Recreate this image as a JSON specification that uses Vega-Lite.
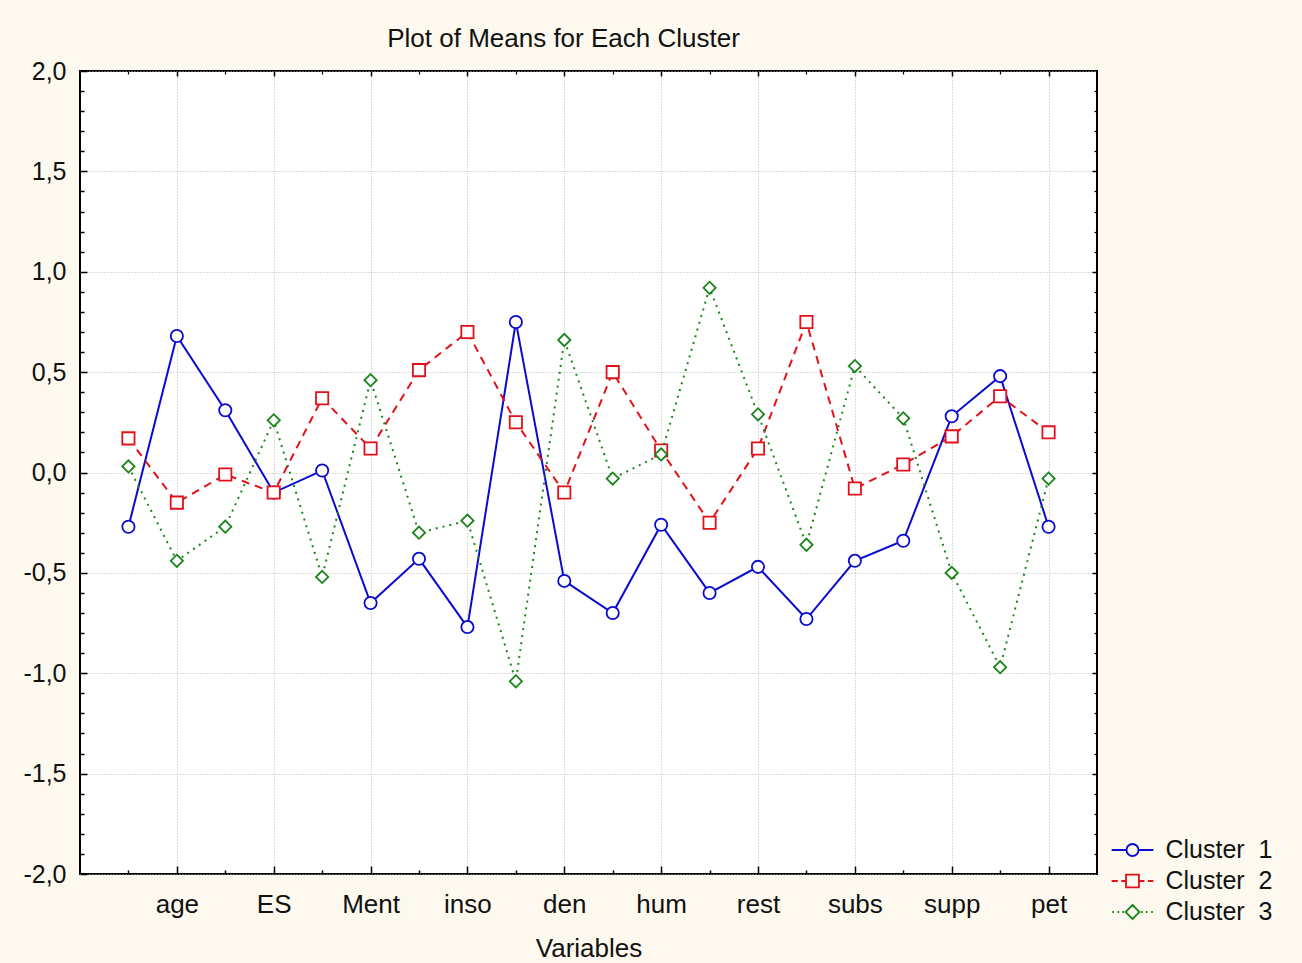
{
  "$schema": "https://vega.github.io/schema/vega-lite/v6.json",
  "width": 1017,
  "height": 803,
  "autosize": {"type": "none"},
  "padding": {"left": 80, "top": 71, "right": 205, "bottom": 89},
  "background": "#FDF9EE",
  "title": {"text": "Plot of Means for Each Cluster", "fontSize": 26, "font": "Liberation Sans", "fontWeight": "normal", "color": "#111111", "anchor": "middle", "dx": -25, "dy": 38, "offset": 24, "baseline": "alphabetic"},
  "config": {
    "view": {"fill": "white", "stroke": "black", "strokeWidth": 2},
    "font": "Liberation Sans",
    "axis": {"domain": false, "labelFont": "Liberation Sans", "titleFont": "Liberation Sans", "tickColor": "black"}
  },
  "data": {"values": [
    {"i": 1, "variable": "", "cluster": "Cluster 1", "mean": -0.27},
    {"i": 2, "variable": "age", "cluster": "Cluster 1", "mean": 0.68},
    {"i": 3, "variable": "", "cluster": "Cluster 1", "mean": 0.31},
    {"i": 4, "variable": "ES", "cluster": "Cluster 1", "mean": -0.10},
    {"i": 5, "variable": "", "cluster": "Cluster 1", "mean": 0.01},
    {"i": 6, "variable": "Ment", "cluster": "Cluster 1", "mean": -0.65},
    {"i": 7, "variable": "", "cluster": "Cluster 1", "mean": -0.43},
    {"i": 8, "variable": "inso", "cluster": "Cluster 1", "mean": -0.77},
    {"i": 9, "variable": "", "cluster": "Cluster 1", "mean": 0.75},
    {"i": 10, "variable": "den", "cluster": "Cluster 1", "mean": -0.54},
    {"i": 11, "variable": "", "cluster": "Cluster 1", "mean": -0.70},
    {"i": 12, "variable": "hum", "cluster": "Cluster 1", "mean": -0.26},
    {"i": 13, "variable": "", "cluster": "Cluster 1", "mean": -0.60},
    {"i": 14, "variable": "rest", "cluster": "Cluster 1", "mean": -0.47},
    {"i": 15, "variable": "", "cluster": "Cluster 1", "mean": -0.73},
    {"i": 16, "variable": "subs", "cluster": "Cluster 1", "mean": -0.44},
    {"i": 17, "variable": "", "cluster": "Cluster 1", "mean": -0.34},
    {"i": 18, "variable": "supp", "cluster": "Cluster 1", "mean": 0.28},
    {"i": 19, "variable": "", "cluster": "Cluster 1", "mean": 0.48},
    {"i": 20, "variable": "pet", "cluster": "Cluster 1", "mean": -0.27},
    {"i": 1, "variable": "", "cluster": "Cluster 2", "mean": 0.17},
    {"i": 2, "variable": "age", "cluster": "Cluster 2", "mean": -0.15},
    {"i": 3, "variable": "", "cluster": "Cluster 2", "mean": -0.01},
    {"i": 4, "variable": "ES", "cluster": "Cluster 2", "mean": -0.10},
    {"i": 5, "variable": "", "cluster": "Cluster 2", "mean": 0.37},
    {"i": 6, "variable": "Ment", "cluster": "Cluster 2", "mean": 0.12},
    {"i": 7, "variable": "", "cluster": "Cluster 2", "mean": 0.51},
    {"i": 8, "variable": "inso", "cluster": "Cluster 2", "mean": 0.70},
    {"i": 9, "variable": "", "cluster": "Cluster 2", "mean": 0.25},
    {"i": 10, "variable": "den", "cluster": "Cluster 2", "mean": -0.10},
    {"i": 11, "variable": "", "cluster": "Cluster 2", "mean": 0.50},
    {"i": 12, "variable": "hum", "cluster": "Cluster 2", "mean": 0.11},
    {"i": 13, "variable": "", "cluster": "Cluster 2", "mean": -0.25},
    {"i": 14, "variable": "rest", "cluster": "Cluster 2", "mean": 0.12},
    {"i": 15, "variable": "", "cluster": "Cluster 2", "mean": 0.75},
    {"i": 16, "variable": "subs", "cluster": "Cluster 2", "mean": -0.08},
    {"i": 17, "variable": "", "cluster": "Cluster 2", "mean": 0.04},
    {"i": 18, "variable": "supp", "cluster": "Cluster 2", "mean": 0.18},
    {"i": 19, "variable": "", "cluster": "Cluster 2", "mean": 0.38},
    {"i": 20, "variable": "pet", "cluster": "Cluster 2", "mean": 0.20},
    {"i": 1, "variable": "", "cluster": "Cluster 3", "mean": 0.03},
    {"i": 2, "variable": "age", "cluster": "Cluster 3", "mean": -0.44},
    {"i": 3, "variable": "", "cluster": "Cluster 3", "mean": -0.27},
    {"i": 4, "variable": "ES", "cluster": "Cluster 3", "mean": 0.26},
    {"i": 5, "variable": "", "cluster": "Cluster 3", "mean": -0.52},
    {"i": 6, "variable": "Ment", "cluster": "Cluster 3", "mean": 0.46},
    {"i": 7, "variable": "", "cluster": "Cluster 3", "mean": -0.30},
    {"i": 8, "variable": "inso", "cluster": "Cluster 3", "mean": -0.24},
    {"i": 9, "variable": "", "cluster": "Cluster 3", "mean": -1.04},
    {"i": 10, "variable": "den", "cluster": "Cluster 3", "mean": 0.66},
    {"i": 11, "variable": "", "cluster": "Cluster 3", "mean": -0.03},
    {"i": 12, "variable": "hum", "cluster": "Cluster 3", "mean": 0.09},
    {"i": 13, "variable": "", "cluster": "Cluster 3", "mean": 0.92},
    {"i": 14, "variable": "rest", "cluster": "Cluster 3", "mean": 0.29},
    {"i": 15, "variable": "", "cluster": "Cluster 3", "mean": -0.36},
    {"i": 16, "variable": "subs", "cluster": "Cluster 3", "mean": 0.53},
    {"i": 17, "variable": "", "cluster": "Cluster 3", "mean": 0.27},
    {"i": 18, "variable": "supp", "cluster": "Cluster 3", "mean": -0.50},
    {"i": 19, "variable": "", "cluster": "Cluster 3", "mean": -0.97},
    {"i": 20, "variable": "pet", "cluster": "Cluster 3", "mean": -0.03}
  ]},
  "layer": [
    {
      "transform": [{"filter": "datum.cluster === 'Cluster 1'"}],
      "mark": {"type": "line", "strokeWidth": 2},
      "encoding": {
        "x": {"field": "i", "type": "quantitative", "scale": {"domain": [0, 21], "nice": false, "zero": false},
          "axis": {"orient": "bottom", "values": [2, 4, 6, 8, 10, 12, 14, 16, 18, 20],
            "labelExpr": "['', '', 'age', '', 'ES', '', 'Ment', '', 'inso', '', 'den', '', 'hum', '', 'rest', '', 'subs', '', 'supp', '', 'pet'][datum.value]",
            "labelFontSize": 26, "labelColor": "#111111", "tickSize": -8, "tickWidth": 1.5, "labelPadding": 25,
            "grid": true, "gridDash": [1, 2], "gridColor": "#B8B8B8", "gridWidth": 1,
            "title": "Variables", "titleFontSize": 26, "titleFontWeight": "normal", "titleColor": "#111111", "titlePadding": 18}},
        "y": {"field": "mean", "type": "quantitative", "scale": {"domain": [-2, 2], "nice": false, "zero": false},
          "axis": {"orient": "left", "values": [-2, -1.5, -1, -0.5, 0, 0.5, 1, 1.5, 2],
            "labelExpr": "(datum.value < 0 ? '-' : '') + replace(format(abs(datum.value), '.1f'), '.', ',')",
            "labelFontSize": 25, "labelColor": "#111111", "tickSize": -7, "tickWidth": 1.5, "labelPadding": 21,
            "grid": true, "gridDash": [1, 2], "gridColor": "#B8B8B8", "gridWidth": 1, "title": null}},
        "color": {"field": "cluster", "type": "nominal",
          "scale": {"domain": ["Cluster 1", "Cluster 2", "Cluster 3"], "range": ["#0A0AD0", "#E3101A", "#1A851A"]},
          "legend": {"orient": "none", "legendX": 1037.5, "legendY": 764, "title": null, "padding": 0,
            "labelFontSize": 25, "labelColor": "#111111", "labelFont": "Liberation Sans", "labelOffset": 18,
            "symbolSize": 784, "symbolStrokeWidth": 1.8, "rowPadding": 3,
            "labelExpr": "replace(datum.label, ' ', '\u00a0 ')",
            "encoding": {"symbols": {
              "shape": {"value": {"expr": "datum.value === 'Cluster 1' ? 'M-1.49,0H-0.43M0.43,0H1.49M0.43,0A0.43,0.43,0,1,1,-0.43,0A0.43,0.43,0,1,1,0.43,0' : datum.value === 'Cluster 2' ? 'M-1.49,0H-1.05M-0.8,0H-0.46M0.46,0H0.85M1.1,0H1.49M-0.46,-0.46H0.46V0.46H-0.46Z' : 'M-1.45,0H-1.33M-1.07,0H-0.95M-0.73,0H-0.61M0.61,0H0.73M0.95,0H1.07M1.33,0H1.45M0,-0.5L0.5,0L0,0.5L-0.5,0Z'"}},
              "fill": {"value": "transparent"}
            }}
          }}
      }
    },
    {
      "transform": [{"filter": "datum.cluster === 'Cluster 1'"}],
      "mark": {"type": "point", "shape": "circle", "filled": false, "fill": "white", "size": 150, "strokeWidth": 1.8, "opacity": 1},
      "encoding": {
        "x": {"field": "i", "type": "quantitative",
          "axis": {"orient": "bottom", "values": [1, 3, 5, 7, 9, 11, 13, 15, 17, 19], "labels": false, "tickSize": -4, "tickWidth": 1.5, "grid": false, "title": null}},
        "y": {"field": "mean", "type": "quantitative",
          "axis": {"orient": "left", "values": [-1.9, -1.8, -1.7, -1.6, -1.4, -1.3, -1.2, -1.1, -0.9, -0.8, -0.7, -0.6, -0.4, -0.3, -0.2, -0.1, 0.1, 0.2, 0.3, 0.4, 0.6, 0.7, 0.8, 0.9, 1.1, 1.2, 1.3, 1.4, 1.6, 1.7, 1.8, 1.9], "labels": false, "tickSize": -4, "tickWidth": 1.5, "grid": false, "title": null}},
        "color": {"field": "cluster", "type": "nominal", "legend": null}
      }
    },
    {
      "transform": [{"filter": "datum.cluster === 'Cluster 2'"}],
      "mark": {"type": "line", "strokeWidth": 2, "strokeDash": [8, 6]},
      "encoding": {
        "x": {"field": "i", "type": "quantitative",
          "axis": {"orient": "top", "values": [2, 4, 6, 8, 10, 12, 14, 16, 18, 20], "labels": false, "tickSize": -5, "tickWidth": 1.5, "grid": false, "title": null}},
        "y": {"field": "mean", "type": "quantitative",
          "axis": {"orient": "right", "values": [-1.5, -1, -0.5, 0, 0.5, 1, 1.5], "labels": false, "tickSize": -5, "tickWidth": 1.5, "grid": false, "title": null}},
        "color": {"field": "cluster", "type": "nominal", "legend": null}
      }
    },
    {
      "transform": [{"filter": "datum.cluster === 'Cluster 2'"}],
      "mark": {"type": "point", "shape": "square", "filled": false, "fill": "white", "size": 150, "strokeWidth": 1.8, "opacity": 1},
      "encoding": {
        "x": {"field": "i", "type": "quantitative",
          "axis": {"orient": "top", "values": [1, 3, 5, 7, 9, 11, 13, 15, 17, 19], "labels": false, "tickSize": -3, "tickWidth": 1.2, "grid": false, "title": null}},
        "y": {"field": "mean", "type": "quantitative",
          "axis": {"orient": "right", "values": [-1.9, -1.8, -1.7, -1.6, -1.4, -1.3, -1.2, -1.1, -0.9, -0.8, -0.7, -0.6, -0.4, -0.3, -0.2, -0.1, 0.1, 0.2, 0.3, 0.4, 0.6, 0.7, 0.8, 0.9, 1.1, 1.2, 1.3, 1.4, 1.6, 1.7, 1.8, 1.9], "labels": false, "tickSize": -3, "tickWidth": 1.2, "grid": false, "title": null}},
        "color": {"field": "cluster", "type": "nominal", "legend": null}
      }
    },
    {
      "transform": [{"filter": "datum.cluster === 'Cluster 3'"}],
      "mark": {"type": "line", "strokeWidth": 2, "strokeDash": [2, 5]},
      "encoding": {
        "x": {"field": "i", "type": "quantitative", "axis": null},
        "y": {"field": "mean", "type": "quantitative", "axis": null},
        "color": {"field": "cluster", "type": "nominal", "legend": null}
      }
    },
    {
      "transform": [{"filter": "datum.cluster === 'Cluster 3'"}],
      "mark": {"type": "point", "shape": "diamond", "filled": false, "fill": "white", "size": 150, "strokeWidth": 1.8, "opacity": 1},
      "encoding": {
        "x": {"field": "i", "type": "quantitative", "axis": null},
        "y": {"field": "mean", "type": "quantitative", "axis": null},
        "color": {"field": "cluster", "type": "nominal", "legend": null}
      }
    }
  ],
  "resolve": {"axis": {"x": "independent", "y": "independent"}}
}
